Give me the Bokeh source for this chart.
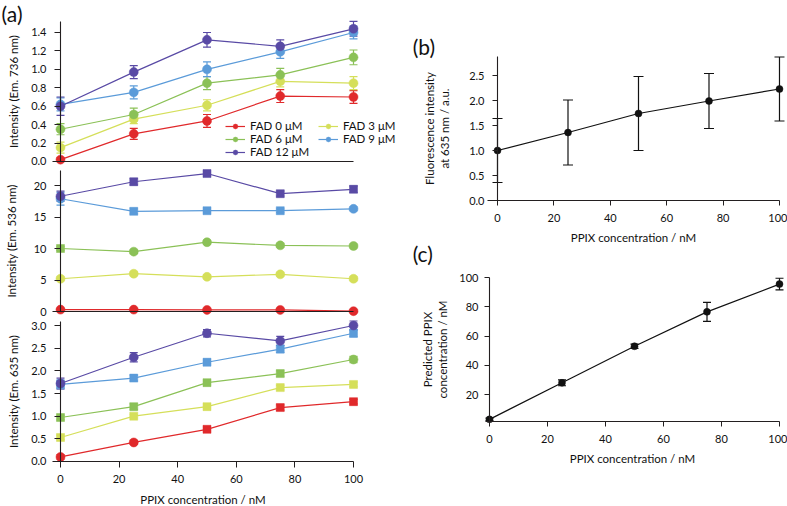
from bokeh.plotting import figure
from bokeh.models import (Range1d, LinearAxis, Whisker, TeeHead, ColumnDataSource,
                          Label, Legend, LegendItem, FixedTicker, NumeralTickFormatter)
from bokeh.layouts import row, column
from bokeh.embed import file_html
from bokeh.resources import INLINE

# ---------------- data ----------------
PPIX = [0, 25, 50, 75, 100]
FAD_LABELS = ["FAD 0 μM", "FAD 3 μM", "FAD 6 μM", "FAD 9 μM", "FAD 12 μM"]

# (a) top: emission 736 nm
EM736_FAD0 = [0.02, 0.30, 0.44, 0.71, 0.70]
EM736_FAD3 = [0.15, 0.46, 0.61, 0.87, 0.85]
EM736_FAD6 = [0.35, 0.51, 0.85, 0.94, 1.13]
EM736_FAD9 = [0.62, 0.75, 1.00, 1.19, 1.40]
EM736_FAD12 = [0.60, 0.97, 1.32, 1.25, 1.44]
EM736_ERR0 = [0.02, 0.06, 0.07, 0.07, 0.07]
EM736_ERR3 = [0.06, 0.05, 0.06, 0.06, 0.07]
EM736_ERR6 = [0.06, 0.07, 0.07, 0.07, 0.08]
EM736_ERR9 = [0.07, 0.07, 0.08, 0.07, 0.07]
EM736_ERR12 = [0.10, 0.07, 0.08, 0.07, 0.08]

# (a) middle: emission 536 nm
EM536_FAD0 = [0.30, 0.30, 0.25, 0.25, 0.05]
EM536_FAD3 = [5.2, 6.0, 5.5, 5.9, 5.2]
EM536_FAD6 = [10.0, 9.5, 11.0, 10.5, 10.4]
EM536_FAD9 = [17.9, 15.9, 16.0, 16.0, 16.3]
EM536_FAD12 = [18.3, 20.6, 21.9, 18.7, 19.4]
EM536_ERR0 = [0.2, 0.2, 0.2, 0.2, 0.2]
EM536_ERR3 = [0.3, 0.3, 0.3, 0.3, 0.3]
EM536_ERR6 = [0.3, 0.3, 0.3, 0.3, 0.3]
EM536_ERR9 = [1.0, 0.4, 0.3, 0.3, 0.3]
EM536_ERR12 = [0.8, 0.5, 0.4, 0.4, 0.5]

# (a) bottom: emission 635 nm
EM635_FAD0 = [0.10, 0.42, 0.71, 1.19, 1.32]
EM635_FAD3 = [0.53, 1.00, 1.21, 1.63, 1.70]
EM635_FAD6 = [0.97, 1.21, 1.74, 1.94, 2.25]
EM635_FAD9 = [1.70, 1.84, 2.19, 2.48, 2.83]
EM635_FAD12 = [1.72, 2.30, 2.83, 2.66, 3.00]
EM635_ERR0 = [0.05, 0.04, 0.05, 0.06, 0.05]
EM635_ERR3 = [0.05, 0.04, 0.04, 0.05, 0.05]
EM635_ERR6 = [0.05, 0.06, 0.05, 0.06, 0.07]
EM635_ERR9 = [0.10, 0.06, 0.07, 0.08, 0.08]
EM635_ERR12 = [0.12, 0.10, 0.08, 0.10, 0.10]

# (b) normalised fluorescence at 635 nm
B_MEAN = [1.00, 1.36, 1.74, 1.99, 2.23]
B_ERR = [0.64, 0.65, 0.74, 0.55, 0.64]

# (c) predicted PPIX concentration
C_MEAN = [3.0, 28.0, 53.0, 76.5, 95.5]
C_ERR = [0.8, 2.0, 1.5, 6.5, 4.0]

# ---------------- style ----------------
COLORS = ["#e0292b", "#d5df5a", "#8bc157", "#5b9bd9", "#594aa5"]
AXC = "#231f20"
FONT = "Lato"
TICK_FS = "11px"
LAB_FS = "11.5px"

M_TOP = [["circle"] * 5] * 5
M_MID = [["circle"] * 5, ["circle"] * 5, ["square", "circle", "circle", "circle", "circle"],
         ["circle", "square", "square", "square", "circle"],
         ["circle", "square", "square", "square", "square"]]
M_BOT = [["circle", "circle", "square", "square", "square"], ["square"] * 5,
         ["square", "square", "square", "square", "circle"], ["square"] * 5, ["circle"] * 5]


def base_fig(w, h, xr, yr):
    p = figure(width=w, height=h, x_range=Range1d(*xr), y_range=Range1d(*yr),
               output_backend="svg", toolbar_location=None,
               x_axis_location=None, y_axis_location=None)
    p.title = None
    p.min_border_left = 0
    p.min_border_right = 0
    p.min_border_top = 0
    p.min_border_bottom = 0
    p.outline_line_color = None
    p.grid.grid_line_color = None
    p.background_fill_color = None
    p.border_fill_color = None
    return p


def style_axis(ax, tick_out=6, standoff=8):
    ax.axis_line_color = AXC
    ax.axis_line_width = 1.1
    ax.major_tick_line_color = AXC
    ax.major_tick_out = tick_out
    ax.major_tick_in = 0
    ax.minor_tick_line_color = None
    ax.major_label_text_font = FONT
    ax.major_label_text_font_size = TICK_FS
    ax.major_label_text_color = "#111111"
    ax.major_label_standoff = standoff
    ax.axis_label_text_font = FONT
    ax.axis_label_text_font_size = LAB_FS
    ax.axis_label_text_font_style = "normal"
    ax.axis_label_text_color = "#111111"


def add_y(p, ticks, bounds, label, lab_standoff, fmt=None, loc=0, tick_out=6, standoff=8):
    ax = LinearAxis(fixed_location=loc, bounds=bounds, ticker=FixedTicker(ticks=ticks),
                    axis_label=label)
    if fmt:
        ax.formatter = NumeralTickFormatter(format=fmt)
    style_axis(ax, tick_out, standoff)
    ax.axis_label_standoff = lab_standoff
    p.add_layout(ax, "left")
    return ax


def add_x(p, ticks, bounds, label=None, loc=0, tick_out=6, standoff=8):
    ax = LinearAxis(fixed_location=loc, bounds=bounds, ticker=FixedTicker(ticks=ticks),
                    axis_label=label)
    style_axis(ax, tick_out, standoff)
    ax.axis_label_standoff = 6
    p.add_layout(ax, "below")
    return ax


def draw_series(p, ys, errs, color, markers, size=9, cap=8):
    up = [y + e for y, e in zip(ys, errs)]
    lo = [y - e for y, e in zip(ys, errs)]
    sizes = [size - 1 if m == "square" else size for m in markers]
    src = ColumnDataSource(dict(x=PPIX, y=ys, up=up, lo=lo, m=markers, s=sizes))
    ln = p.line("x", "y", source=src, line_color=color, line_width=1.2)
    wk = Whisker(source=src, base="x", upper="up", lower="lo", dimension="height",
                 line_color=color, line_width=1.2,
                 upper_head=TeeHead(size=cap, line_color=color, line_width=1.2),
                 lower_head=TeeHead(size=cap, line_color=color, line_width=1.2))
    p.add_layout(wk)
    sc = p.scatter("x", "y", source=src, marker="m", size="s", fill_color=color,
                   line_color=color, line_width=0.5)
    return ln, sc


# ---------------- panel (a) top ----------------
XA = (-20.48, 116.04)
a1 = base_fig(400, 168, XA, (-0.076, 1.747))
add_y(a1, [0, 0.2, 0.4, 0.6, 0.8, 1.0, 1.2, 1.4], (0, 1.52), "Intensity (Em. 736 nm)", 8, "0.0")
add_x(a1, [], (-2.73, 100))
top_sets = [(EM736_FAD0, EM736_ERR0), (EM736_FAD3, EM736_ERR3), (EM736_FAD6, EM736_ERR6),
            (EM736_FAD9, EM736_ERR9), (EM736_FAD12, EM736_ERR12)]
rends = []
for i, (ys, es) in enumerate(top_sets):
    rends.append(draw_series(a1, ys, es, COLORS[i], M_TOP[i]))

items = [LegendItem(label=FAD_LABELS[i], renderers=list(rends[i])) for i in range(5)]
leg = Legend(items=items, location=(225, 10), orientation="horizontal", ncols=2,
             padding=0, margin=0, spacing=0, label_standoff=5, glyph_width=20,
             glyph_height=12, label_height=12, label_width=68,
             label_text_font=FONT, label_text_font_size="11.5px", label_text_color="#111111",
             background_fill_alpha=0, border_line_alpha=0)
a1.add_layout(leg, "center")
a1.add_layout(Label(x=-20.1, y=1.745, text="(a)", text_font=FONT, text_font_size="21px",
                    text_baseline="top", text_align="left", text_color="#111111"))

# ---------------- panel (a) middle ----------------
a2 = base_fig(400, 150, XA, (-1.111, 22.70))
add_y(a2, [0, 5, 10, 15, 20], (0, 22.4), "Intensity (Em. 536 nm)", 13)
add_x(a2, [], (-2.73, 100))
mid_sets = [(EM536_FAD0, EM536_ERR0), (EM536_FAD3, EM536_ERR3), (EM536_FAD6, EM536_ERR6),
            (EM536_FAD9, EM536_ERR9), (EM536_FAD12, EM536_ERR12)]
for i, (ys, es) in enumerate(mid_sets):
    draw_series(a2, ys, es, COLORS[i], M_MID[i])

# ---------------- panel (a) bottom ----------------
a3 = base_fig(400, 188, XA, (-0.993, 3.155))
add_y(a3, [0, 0.5, 1.0, 1.5, 2.0, 2.5, 3.0], (0, 3.09), "Intensity (Em. 635 nm)", 8, "0.0")
add_x(a3, [0, 20, 40, 60, 80, 100], (-2.73, 100), "PPIX concentration / nM")
bot_sets = [(EM635_FAD0, EM635_ERR0), (EM635_FAD3, EM635_ERR3), (EM635_FAD6, EM635_ERR6),
            (EM635_FAD9, EM635_ERR9), (EM635_FAD12, EM635_ERR12)]
for i, (ys, es) in enumerate(bot_sets):
    draw_series(a3, ys, es, COLORS[i], M_BOT[i])

# ---------------- panel (b) ----------------
pb = base_fig(387, 270, (-34.40, 102.84), (-1.4, 4.0))
add_y(pb, [0, 0.5, 1.0, 1.5, 2.0, 2.5], (0, 2.88),
      "Fluorescence intensity\nat 635 nm / a.u.", 15, "0.0", tick_out=5)
add_x(pb, [0, 20, 40, 60, 80, 100], (-3.5, 100), "PPIX concentration / nM", tick_out=5)
draw_series(pb, B_MEAN, B_ERR, "#111111", ["circle"] * 5, size=7, cap=10)
pb.add_layout(Label(x=-30.1, y=3.34, text="(b)", text_font=FONT, text_font_size="21px",
                    text_baseline="top", text_align="left", text_color="#111111"))
pb.add_layout(Label(x=-30.1, y=-0.80, text="(c)", text_font=FONT, text_font_size="21px",
                    text_baseline="top", text_align="left", text_color="#111111"))

# ---------------- panel (c) ----------------
pc = base_fig(387, 236, (-30.69, 102.76), (-56.58, 104.79))
add_y(pc, [20, 40, 60, 80, 100], (1.5, 100),
      "Predicted PPIX\nconcentration / nM", 7, tick_out=5, standoff=6)
add_x(pc, [0, 20, 40, 60, 80, 100], (-1.4, 100), "PPIX concentration / nM", loc=1.5,
      tick_out=5)
draw_series(pc, C_MEAN, C_ERR, "#111111", ["circle"] * 5, size=7, cap=8)

layout = row(column(a1, a2, a3, spacing=0), column(pb, pc, spacing=0), spacing=0)
open("out.html", "w").write(file_html(layout, INLINE))
